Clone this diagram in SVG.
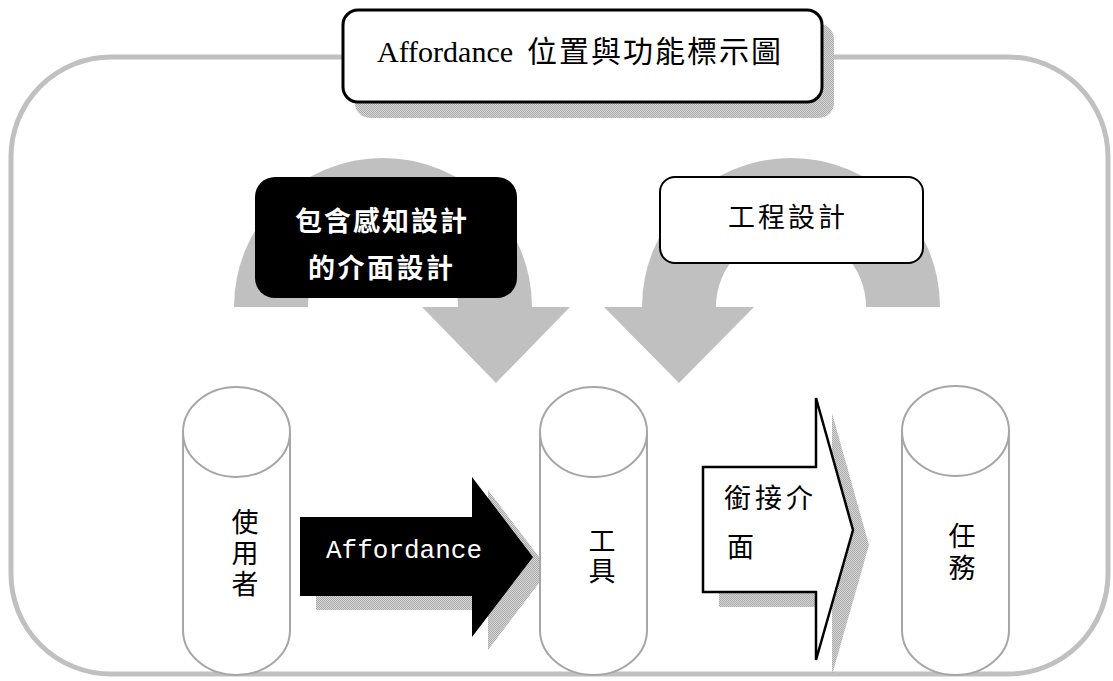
<svg xmlns="http://www.w3.org/2000/svg" width="1113" height="681" viewBox="0 0 1113 681">
<defs>
<pattern id="hatch" width="2" height="2" patternUnits="userSpaceOnUse">
<rect width="2" height="2" fill="#d6d6d6"/>
<rect width="1" height="1" fill="#ababab"/>
<rect x="1" y="1" width="1" height="1" fill="#ababab"/>
</pattern>
<style>
.frame{fill:none;stroke:#c0c0c0;stroke-width:5}
.curve{fill:#c0c0c0;stroke:none}
.cyl{fill:#fff;stroke:#a6a6a6;stroke-width:2}
.shadow{fill:url(#hatch);stroke:none}
.cjk{font-family:"Noto Sans CJK TC","Noto Sans CJK JP",sans-serif;font-size:27px;fill:#000}
.vert{writing-mode:vertical-rl;letter-spacing:4px}
.title{font-family:"Liberation Serif","Noto Sans CJK TC",serif;font-size:30px;fill:#000}
</style>
</defs>
<rect width="1113" height="681" fill="#fff"/>

<g id="frame">
<rect class="frame" x="11" y="57" width="1097" height="617" rx="100" ry="100"/>
</g>

<g id="connectors">
<path id="curve-left" class="curve" d="M234,307 A149,149 0 0 1 532,307 L570,307 L496,383 L422,307 L458,307 A75,75 0 0 0 308,307 Z"/>
<path id="curve-right" class="curve" d="M940,307 A149,149 0 0 0 642,307 L604,307 L679,383 L754,307 L716,307 A75,75 0 0 1 866,307 Z"/>
<g id="arrow-affordance">
<path class="shadow" d="M316,530 L488,530 L488,490 L549,570 L488,650 L488,610 L316,610 Z"/>
<path d="M300,517 L472,517 L472,477 L533,557 L472,637 L472,596 L300,596 Z" fill="#000"/>
<text x="404" y="558" text-anchor="middle" font-family="Liberation Mono, DejaVu Sans Mono, monospace" font-size="26" fill="#fff">Affordance</text>
</g>
<g id="arrow-interface">
<path class="shadow" d="M719,482 L832,482 L832,413 L869,545 L832,675 L832,607 L719,607 Z"/>
<path d="M703,467 L816,467 L816,398 L853,530 L816,660 L816,592 L703,592 Z" fill="#fff" stroke="#000" stroke-width="2.5" stroke-linejoin="miter"/>
<text class="cjk" x="724" y="508" letter-spacing="4">銜接介</text>
<text class="cjk" x="727" y="557">面</text>
</g>
</g>

<g id="title">
<rect class="shadow" x="355" y="24" width="479" height="94" rx="15"/>
<rect x="343" y="10" width="479" height="92" rx="15" fill="#fff" stroke="#000" stroke-width="3"/>
<text class="title" x="377" y="62">Affordance <tspan x="527" letter-spacing="2">位置與功能標示圖</tspan></text>
</g>

<g id="box-perception">
<rect x="255" y="177" width="262" height="121" rx="20" fill="#000"/>
<text class="cjk" x="295" y="231" letter-spacing="2" style="fill:#fff;font-weight:bold">包含感知設計</text>
<text class="cjk" x="308" y="278" letter-spacing="2.5" style="fill:#fff;font-weight:bold">的介面設計</text>
</g>

<g id="box-engineering">
<rect x="660" y="177" width="263" height="86" rx="15" fill="#fff" stroke="#000" stroke-width="2"/>
<text class="cjk" x="728" y="227" letter-spacing="3">工程設計</text>
</g>

<g id="cyl-user">
<path class="cyl" d="M183,432 L183,630 A53.5,45 0 0 0 290,630 L290,432"/>
<ellipse class="cyl" cx="236.5" cy="432" rx="53.5" ry="45"/>
<text class="cjk vert" x="245" y="508">使用者</text>
</g>

<g id="cyl-tool">
<path class="cyl" d="M540,432 L540,630 A53.5,45 0 0 0 647,630 L647,432"/>
<ellipse class="cyl" cx="593.5" cy="432" rx="53.5" ry="45"/>
<text class="cjk vert" x="602" y="527" style="letter-spacing:3px">工具</text>
</g>

<g id="cyl-task">
<path class="cyl" d="M902,431 L902,630 A53.5,45 0 0 0 1009,630 L1009,431"/>
<ellipse class="cyl" cx="955.5" cy="431" rx="53.5" ry="45"/>
<text class="cjk vert" x="962" y="522" style="letter-spacing:5px">任務</text>
</g>
</svg>
